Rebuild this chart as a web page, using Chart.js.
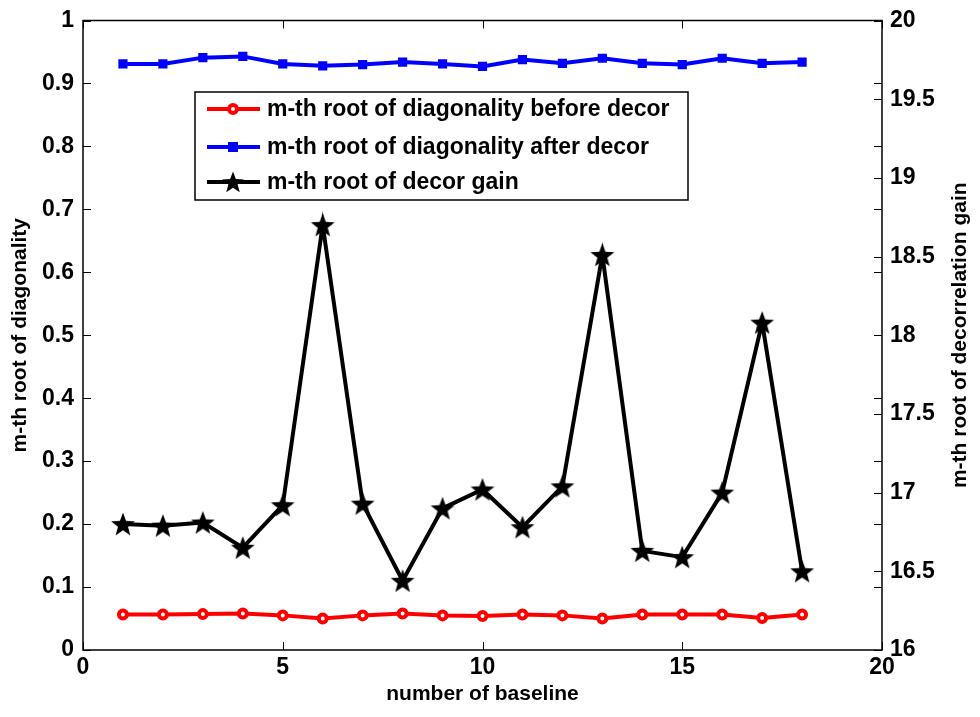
<!DOCTYPE html>
<html>
<head>
<meta charset="utf-8">
<script src="https://cdn.jsdelivr.net/npm/chart.js@4/dist/chart.umd.min.js"></script>
<style>
html,body{margin:0;padding:0;background:#fff;}
#wrap{width:980px;height:717px;position:relative;}
</style>
</head>
<body>
<div id="wrap"><canvas id="c" width="980" height="717"></canvas></div>
<script>
const baselines = [1,2,3,4,5,6,7,8,9,10,11,12,13,14,15,16,17,18];
const diagBefore = [0.0565,0.0565,0.057,0.058,0.055,0.050,0.055,0.058,0.055,0.054,0.0565,0.055,0.050,0.0565,0.0565,0.0565,0.051,0.0565];
const diagAfter = [0.931,0.931,0.941,0.943,0.931,0.928,0.930,0.934,0.931,0.927,0.938,0.932,0.940,0.932,0.930,0.940,0.932,0.934];
const decorGain = [16.80,16.79,16.81,16.65,16.92,18.70,16.93,16.44,16.90,17.02,16.78,17.04,18.51,16.63,16.59,17.00,18.08,16.50];
const seriesLabels = ['m-th root of diagonality before decor','m-th root of diagonality after decor','m-th root of decor gain'];
const xTitle = 'number of baseline';
const yTitle = 'm-th root of diagonality';
const y2Title = 'm-th root of decorrelation gain';

const FONT = '"Liberation Sans", Arial, sans-serif';
const TICK_FONT = { family: FONT, size: 23, weight: 'bold', lineHeight: 1.0 };
const TITLE_FONT = { family: FONT, size: 21, weight: 'bold' };

function makeStar(size){
  const c = document.createElement('canvas');
  c.width = size; c.height = size;
  const g = c.getContext('2d');
  const cx = size/2, cy = size/2 + size*0.04, R = size/2 - 0.5, r = R*0.42;
  g.beginPath();
  for (let i=0;i<10;i++){
    const ang = -Math.PI/2 + i*Math.PI/5;
    const rad = i%2===0 ? R : r;
    const px = cx + rad*Math.cos(ang), py = cy + rad*Math.sin(ang);
    if (i===0) g.moveTo(px,py); else g.lineTo(px,py);
  }
  g.closePath();
  g.fillStyle = '#000';
  g.fill();
  return c;
}
const starImg = makeStar(26);
const starImgSmall = makeStar(24);

const toXY = (xs, ys) => xs.map((x,i)=>({x:x, y:ys[i]}));

const boxPlugin = {
  id: 'boxTicks',
  afterDatasetsDraw(chart){
    const ctx = chart.ctx;
    const a = chart.chartArea;
    const xs = chart.scales.x, ys = chart.scales.y, y2 = chart.scales.y2;
    ctx.save();
    ctx.strokeStyle = '#000';
    ctx.lineWidth = 1.5;
    ctx.strokeRect(a.left, a.top, a.right-a.left, a.bottom-a.top);
    const L = 8;
    ctx.lineWidth = 1;
    ctx.beginPath();
    xs.ticks.forEach(t=>{
      const px = Math.round(xs.getPixelForValue(t.value))+0.5;
      ctx.moveTo(px, a.bottom); ctx.lineTo(px, a.bottom-L);
      ctx.moveTo(px, a.top); ctx.lineTo(px, a.top+L);
    });
    ys.ticks.forEach(t=>{
      const py = Math.round(ys.getPixelForValue(t.value))+0.5;
      ctx.moveTo(a.left, py); ctx.lineTo(a.left+L, py);
      ctx.moveTo(a.right, py); ctx.lineTo(a.right-L, py);
    });
    y2.ticks.forEach(t=>{
      const py = Math.round(y2.getPixelForValue(t.value))+0.5;
      ctx.moveTo(a.right, py); ctx.lineTo(a.right-L, py);
    });
    ctx.stroke();

    // legend
    const lx = 195, ly = 92, lw = 493, lh = 108;
    ctx.fillStyle = '#fff';
    ctx.fillRect(lx, ly, lw, lh);
    ctx.strokeStyle = '#000';
    ctx.lineWidth = 1.5;
    ctx.strokeRect(lx, ly, lw, lh);
    const rows = [109, 147, 182];
    chart.data.datasets.forEach((ds, i)=>{
      const y = rows[i];
      ctx.strokeStyle = ds.borderColor;
      ctx.lineWidth = ds.borderWidth;
      ctx.beginPath(); ctx.moveTo(207, y); ctx.lineTo(260, y); ctx.stroke();
      const mx = 233;
      if (i===0){
        ctx.beginPath(); ctx.arc(mx, y, 4, 0, Math.PI*2);
        ctx.fillStyle = ds.pointBackgroundColor; ctx.fill();
        ctx.lineWidth = 4; ctx.strokeStyle = ds.pointBorderColor; ctx.stroke();
      } else if (i===1){
        ctx.fillStyle = ds.pointBackgroundColor;
        ctx.fillRect(mx-5, y-5, 10, 10);
      } else {
        ctx.drawImage(starImgSmall, mx-12, y-12);
      }
      ctx.fillStyle = '#000';
      ctx.font = 'bold 23px ' + FONT;
      ctx.textBaseline = 'middle';
      ctx.textAlign = 'left';
      ctx.fillText(ds.label, 267, y+1);
    });

    // right axis title (reads bottom to top)
    ctx.save();
    ctx.translate(960, (a.top+a.bottom)/2);
    ctx.rotate(-Math.PI/2);
    ctx.fillStyle = '#000';
    ctx.font = 'bold 21px ' + FONT;
    ctx.textAlign = 'center';
    ctx.textBaseline = 'middle';
    ctx.fillText(y2Title, 0, 0);
    ctx.restore();
    ctx.restore();
  }
};

const tickFmt = v => String(Math.round(v*10)/10);

new Chart(document.getElementById('c'), {
  type: 'line',
  data: {
    datasets: [
      {
        label: seriesLabels[0],
        data: toXY(baselines, diagBefore),
        yAxisID: 'y',
        borderColor: '#ff0000',
        borderWidth: 4,
        pointStyle: 'circle',
        pointRadius: 4,
        pointBorderWidth: 4,
        pointBackgroundColor: '#ffffff',
        pointBorderColor: '#ff0000',
        tension: 0
      },
      {
        label: seriesLabels[1],
        data: toXY(baselines, diagAfter),
        yAxisID: 'y',
        borderColor: '#0000ff',
        borderWidth: 4,
        pointStyle: 'rect',
        pointRadius: 6.5,
        pointBorderWidth: 0,
        pointBackgroundColor: '#0000ff',
        pointBorderColor: '#0000ff',
        tension: 0
      },
      {
        label: seriesLabels[2],
        data: toXY(baselines, decorGain),
        yAxisID: 'y2',
        borderColor: '#000000',
        borderWidth: 4,
        pointStyle: starImg,
        pointRadius: 13,
        pointBackgroundColor: '#000000',
        pointBorderColor: '#000000',
        tension: 0
      }
    ]
  },
  options: {
    responsive: false,
    animation: false,
    events: [],
    layout: { padding: { top: 18, left: 0, right: 0, bottom: 0 } },
    plugins: { legend: { display: false }, tooltip: { enabled: false } },
    scales: {
      x: {
        type: 'linear', min: 0, max: 20,
        ticks: { stepSize: 5, color: '#000', font: TICK_FONT, padding: 6, maxRotation: 0 },
        grid: { display: false, drawTicks: false },
        border: { display: false },
        title: { display: true, text: xTitle, color: '#000', font: TITLE_FONT, padding: { top: 0, bottom: 10 } },
        afterFit: s => { s.height = 67; }
      },
      y: {
        type: 'linear', position: 'left', min: 0, max: 1,
        ticks: { stepSize: 0.1, color: '#000', font: TICK_FONT, padding: 9, callback: tickFmt },
        grid: { display: false, drawTicks: false },
        border: { display: false },
        title: { display: true, text: yTitle, color: '#000', font: TITLE_FONT, padding: { top: 8, bottom: 0 } },
        afterFit: s => { s.width = 83; }
      },
      y2: {
        type: 'linear', position: 'right', min: 16, max: 20,
        ticks: { stepSize: 0.5, color: '#000', font: TICK_FONT, padding: 8, callback: v => String(v) },
        grid: { display: false, drawTicks: false },
        border: { display: false },
        afterFit: s => { s.width = 98; }
      }
    }
  },
  plugins: [boxPlugin]
});
</script>
</body>
</html>
